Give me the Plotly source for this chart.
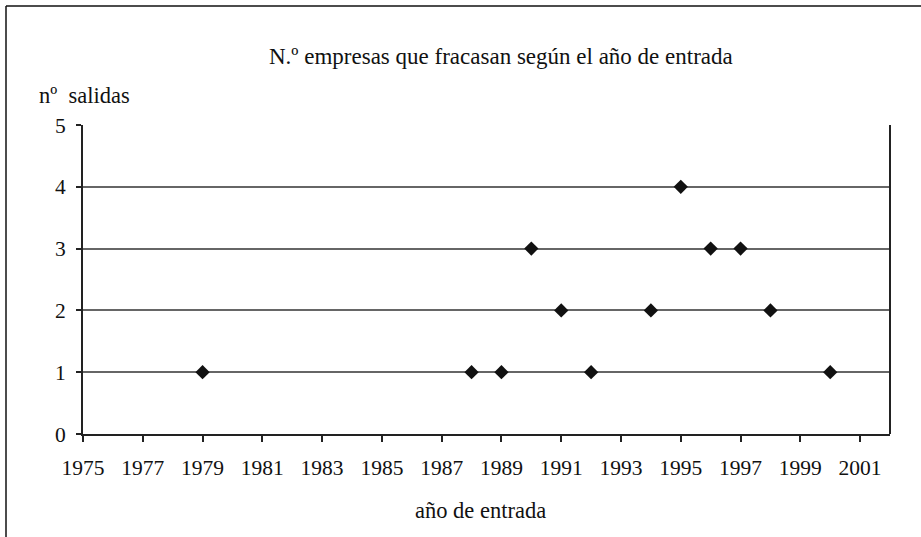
import plotly.graph_objects as go

years = [1979, 1988, 1989, 1990, 1991, 1992, 1994, 1995, 1996, 1997, 1998, 2000]
salidas = [1, 1, 1, 3, 2, 1, 2, 4, 3, 3, 2, 1]
x_ticks = list(range(1975, 2002, 2))
y_ticks = [0, 1, 2, 3, 4, 5]

W, H = 921, 537
L, R, T, B = 83, 890, 125, 434
pw, ph = R - L, B - T

font = "Liberation Serif, Times New Roman, serif"

fig = go.Figure()
fig.add_trace(go.Scatter(
    x=years, y=salidas, mode="markers",
    marker=dict(symbol="diamond", size=11, color="#111111", line=dict(width=0)),
    cliponaxis=False, showlegend=False,
))

def px(x):
    return (x - L) / pw

def py(y):
    return (B - y) / ph

fig.update_layout(
    width=W, height=H,
    margin=dict(l=L, r=W - R, t=T, b=H - B, pad=0),
    paper_bgcolor="white", plot_bgcolor="white",
    font=dict(family=font, size=21, color="#111111"),
    xaxis=dict(range=[1975, 2002], tickvals=x_ticks, ticktext=[str(v) for v in x_ticks],
               showgrid=False, zeroline=False, showline=True, linecolor="#222222", linewidth=2,
               mirror=False, ticks="outside", ticklen=6, tickwidth=1.5, tickcolor="#222222",
               tickfont=dict(size=21.5), ticklabelstandoff=7),
    yaxis=dict(range=[0, 5], tickvals=y_ticks, showgrid=True, gridcolor="#666666", gridwidth=1.5,
               zeroline=False, showline=True, linecolor="#222222", linewidth=2,
               ticks="outside", ticklen=5, tickwidth=1.5, tickcolor="#222222",
               tickfont=dict(size=21.5), ticklabelstandoff=6),
    shapes=[
        dict(type="line", xref="paper", yref="paper", x0=1, x1=1, y0=0, y1=1,
             line=dict(color="#222222", width=2)),
        dict(type="line", xref="paper", yref="paper", x0=px(6), x1=px(6), y0=py(6), y1=py(560),
             line=dict(color="#111111", width=1.5)),
        dict(type="line", xref="paper", yref="paper", x0=px(6), x1=px(940), y0=py(6), y1=py(6),
             line=dict(color="#111111", width=1.5)),
    ],
    annotations=[
        dict(text="N.º empresas que fracasan según el año de entrada", xref="paper", yref="paper",
             x=px(501), y=py(57), xanchor="center", yanchor="middle", showarrow=False,
             font=dict(size=23)),
        dict(text="nº\u00a0 salidas", xref="paper", yref="paper",
             x=px(37), y=py(95), xanchor="left", yanchor="middle", showarrow=False,
             font=dict(size=22.5)),
        dict(text="año de entrada", xref="paper", yref="paper",
             x=px(480), y=py(510), xanchor="center", yanchor="middle", showarrow=False,
             font=dict(size=22.5)),
    ],
)

fig.write_html("out.html", config={"displayModeBar": False},
               post_script="document.body.style.margin='0';")
